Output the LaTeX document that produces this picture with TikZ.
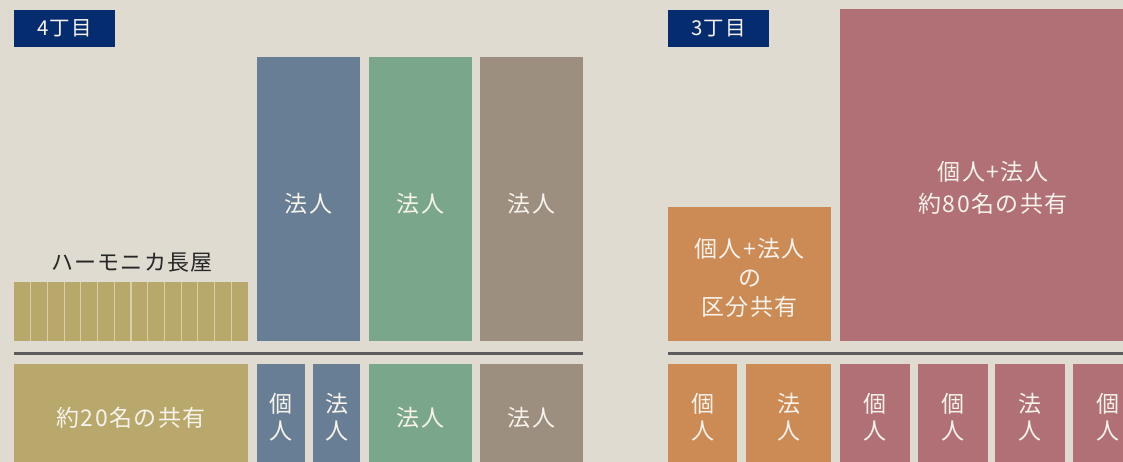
\documentclass[tikz,border=0pt]{standalone}
\usepackage{fontspec}
\usetikzlibrary{calc}
\newfontfamily\jp[LetterSpace=6]{Noto Sans CJK JP}
\definecolor{bgc}{HTML}{DFDBD0}
\definecolor{navy}{HTML}{052C6E}
\definecolor{tan}{HTML}{B8A86C}
\definecolor{tanline}{HTML}{D9D0A8}
\definecolor{blu}{HTML}{687E95}
\definecolor{grn}{HTML}{7AA68C}
\definecolor{gry}{HTML}{9C8F7F}
\definecolor{org}{HTML}{CC8A55}
\definecolor{pnk}{HTML}{B07075}
\definecolor{sep}{HTML}{5C5C5C}
\definecolor{txtw}{HTML}{F7F3EC}
\tikzset{
  blk/.style={anchor=north west, inner sep=0pt, outer sep=0pt, draw=none},
  lbl/.style={inner sep=0pt, text=txtw, align=center, font=\jp\fontsize{23}{27}\selectfont},
  tag/.style={anchor=north west, inner sep=0pt, outer sep=0pt, fill=navy,
    minimum width=101pt, minimum height=37pt},
  taglbl/.style={inner sep=0pt, text=txtw, font=\jp\fontsize{20.5}{22}\selectfont},
  sepline/.style={draw=sep, line width=3pt},
}
\begin{document}
\begin{tikzpicture}[x=1pt,y=-1pt]
\useasboundingbox (0,0) rectangle (1123,462);
\fill[bgc] (0,0) rectangle (1123,462);
\clip (0,0) rectangle (1123,462);
% ---- 4丁目 ----
\node[tag] (t4) at (14,10) {};
\node[taglbl] (t4l) at (t4.center) {4丁目};
\node[blk, fill=blu, minimum width=103pt, minimum height=284pt] (a1) at (257,57) {};
\node[blk, fill=grn, minimum width=103pt, minimum height=284pt] (a2) at (369,57) {};
\node[blk, fill=gry, minimum width=103pt, minimum height=284pt] (a3) at (480,57) {};
\node[lbl] (a1l) at ($(a1.north)+(0,147)$) {法人};
\node[lbl] (a2l) at ($(a2.north)+(0,147)$) {法人};
\node[lbl] (a3l) at ($(a3.north)+(0,147)$) {法人};
\node[blk, fill=tan, minimum width=234pt, minimum height=59pt] (harm) at (14,282) {};
\foreach \i in {1,...,13} {
  \draw[tanline, line width=1.2pt] ($(harm.north west)+(\i*16.714,0)$) -- ($(harm.south west)+(\i*16.714,0)$);
}
\node[inner sep=0pt, text=black!85, font=\jp\fontsize{22}{24}\selectfont] (hlabel) at (132,263) {ハーモニカ長屋};
\coordinate (s4a) at (14,353);
\coordinate (s4b) at (583,353);
\draw[sepline] (s4a) -- (s4b);
\node[blk, fill=tan, minimum width=234pt, minimum height=110pt] (b1) at (14,364) {};
\node[blk, fill=blu, minimum width=48pt, minimum height=110pt] (b2) at (257,364) {};
\node[blk, fill=blu, minimum width=47pt, minimum height=110pt] (b3) at (313,364) {};
\node[blk, fill=grn, minimum width=103pt, minimum height=110pt] (b4) at (369,364) {};
\node[blk, fill=gry, minimum width=103pt, minimum height=110pt] (b5) at (480,364) {};
\node[lbl] (b1l) at ($(b1.north)+(0,54)$) {約20名の共有};
\node[lbl] (b2l) at ($(b2.north)+(0,53)$) {個\\人};
\node[lbl] (b3l) at ($(b3.north)+(0,53)$) {法\\人};
\node[lbl] (b4l) at ($(b4.north)+(0,54)$) {法人};
\node[lbl] (b5l) at ($(b5.north)+(0,54)$) {法人};
% ---- 3丁目 ----
\node[tag] (t3) at (668,10) {};
\node[taglbl] (t3l) at (t3.center) {3丁目};
\node[blk, fill=org, minimum width=163pt, minimum height=134pt] (c1) at (668,207) {};
\node[lbl, font=\jp\fontsize{23}{29}\selectfont] (c1l) at ($(c1.north)+(0,71)$) {個人+法人\\の\\区分共有};
\node[blk, fill=pnk, minimum width=306pt, minimum height=332pt] (c2) at (840,9) {};
\node[lbl, font=\jp\fontsize{23}{32}\selectfont] (c2l) at ($(c2.north)+(0,179)$) {個人+法人\\約80名の共有};
\coordinate (s3a) at (668,353);
\coordinate (s3b) at (1123,353);
\draw[sepline] (s3a) -- (s3b);
\node[blk, fill=org, minimum width=69pt, minimum height=110pt] (d1) at (668,364) {};
\node[blk, fill=org, minimum width=85pt, minimum height=110pt] (d2) at (746,364) {};
\node[blk, fill=pnk, minimum width=70pt, minimum height=110pt] (d3) at (840,364) {};
\node[blk, fill=pnk, minimum width=70pt, minimum height=110pt] (d4) at (918,364) {};
\node[blk, fill=pnk, minimum width=70pt, minimum height=110pt] (d5) at (995,364) {};
\node[blk, fill=pnk, minimum width=70pt, minimum height=110pt] (d6) at (1073,364) {};
\node[lbl] (d1l) at ($(d1.north)+(0,53)$) {個\\人};
\node[lbl] (d2l) at ($(d2.north)+(0,53)$) {法\\人};
\node[lbl] (d3l) at ($(d3.north)+(0,53)$) {個\\人};
\node[lbl] (d4l) at ($(d4.north)+(0,53)$) {個\\人};
\node[lbl] (d5l) at ($(d5.north)+(0,53)$) {法\\人};
\node[lbl] (d6l) at ($(d6.north)+(0,53)$) {個\\人};
\end{tikzpicture}
\end{document}
